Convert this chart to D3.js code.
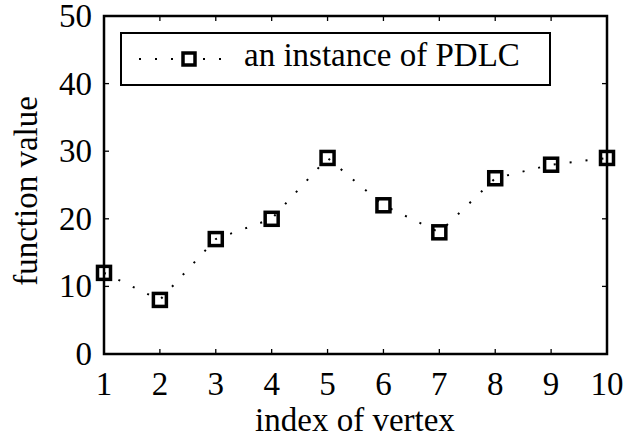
<!DOCTYPE html>
<html>
<head>
<meta charset="utf-8">
<script src="https://cdn.jsdelivr.net/npm/d3@7"></script>
<style>
body { margin: 0; background: #fff; }
text { font-family: "Liberation Serif", "Times New Roman", serif; fill: #000; }
</style>
</head>
<body>
<div id="chart"></div>
<script>
const vertices = [1, 2, 3, 4, 5, 6, 7, 8, 9, 10];
const values = [12, 8, 17, 20, 29, 22, 18, 26, 28, 29];
const yTicks = [0, 10, 20, 30, 40, 50];
const seriesName = "an instance of PDLC";
const FONT = 33;

let width = 626, height = 436;
let m = {left: 104, top: 16, right: 19, bottom: 82};
let pw = width - m.left - m.right, ph = height - m.top - m.bottom;

let svg = d3.select("#chart").append("svg").attr("width", width).attr("height", height);
let x = d3.scaleLinear().domain([1, 10]).range([m.left, m.left + pw]);
let y = d3.scaleLinear().domain([0, 50]).range([m.top + ph, m.top]);

// ticks (inward, on all four sides)
let g = svg.append("g").attr("stroke", "#000").attr("stroke-width", 1.3);
vertices.forEach(v => {
    g.append("line").attr("x1", x(v)).attr("x2", x(v)).attr("y1", y(0)).attr("y2", y(0) - 5);
    g.append("line").attr("x1", x(v)).attr("x2", x(v)).attr("y1", y(50)).attr("y2", y(50) + 5);
});
yTicks.forEach(t => {
    g.append("line").attr("x1", x(1)).attr("x2", x(1) + 5).attr("y1", y(t)).attr("y2", y(t));
    g.append("line").attr("x1", x(10)).attr("x2", x(10) - 5).attr("y1", y(t)).attr("y2", y(t));
});

svg.append("rect").attr("x", m.left).attr("y", m.top).attr("width", pw).attr("height", ph)
    .attr("fill", "none").attr("stroke", "#000").attr("stroke-width", 2.5);

// tick labels
svg.append("g").selectAll("text").data(vertices).join("text")
    .attr("x", d => x(d)).attr("y", y(0) + 41)
    .attr("text-anchor", "middle").attr("font-size", FONT).text(d => d);
svg.append("g").selectAll("text").data(yTicks).join("text")
    .attr("x", m.left - 12).attr("y", d => y(d) + 11)
    .attr("text-anchor", "end").attr("font-size", FONT).text(d => d);

// axis labels
svg.append("text").attr("x", 355).attr("y", 431)
    .attr("text-anchor", "middle").attr("font-size", FONT).text("index of vertex");
svg.append("text").attr("transform", "translate(37,191) rotate(-90)")
    .attr("text-anchor", "middle").attr("font-size", FONT).text("function value");

// series
let line = d3.line().x((d, i) => x(vertices[i])).y(d => y(d));
svg.append("path").datum(values).attr("d", line).attr("fill", "none")
    .attr("stroke", "#000").attr("stroke-width", 2).attr("stroke-dasharray", "2,14");
svg.append("g").selectAll("rect").data(values).join("rect")
    .attr("x", (d, i) => x(vertices[i]) - 6.5).attr("y", d => y(d) - 6.5)
    .attr("width", 13).attr("height", 13)
    .attr("fill", "none").attr("stroke", "#000").attr("stroke-width", 3.5);

// legend
let lg = svg.append("g");
lg.append("rect").attr("x", 121).attr("y", 33).attr("width", 429).attr("height", 52)
    .attr("fill", "#fff").attr("stroke", "#000").attr("stroke-width", 2);
lg.append("line").attr("x1", 139).attr("x2", 228).attr("y1", 59).attr("y2", 59)
    .attr("stroke", "#000").attr("stroke-width", 2).attr("stroke-dasharray", "2,14");
lg.append("rect").attr("x", 183).attr("y", 53).attr("width", 12).attr("height", 12)
    .attr("fill", "#fff").attr("stroke", "#000").attr("stroke-width", 3.5);
lg.append("text").attr("x", 244).attr("y", 66).attr("font-size", FONT).text(seriesName);
</script>
</body>
</html>
